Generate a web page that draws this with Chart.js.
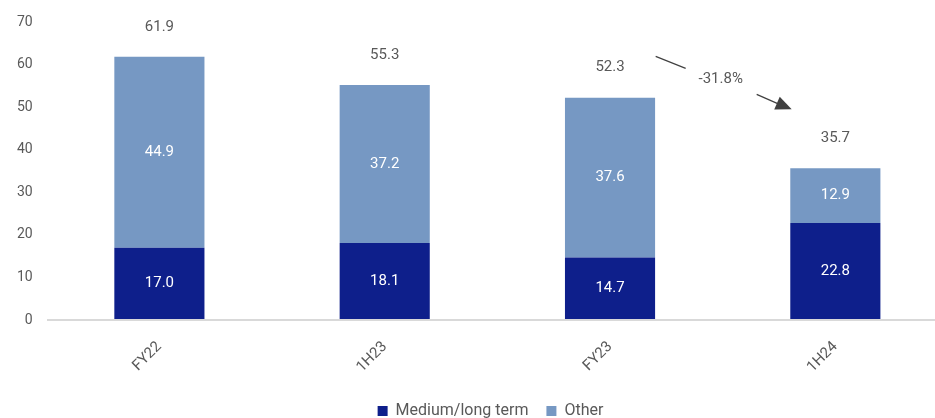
<!DOCTYPE html>
<html>
<head>
<meta charset="utf-8">
<script src="https://cdn.jsdelivr.net/npm/chart.js@4.4.1/dist/chart.umd.min.js"></script>
<style>
  html, body { margin: 0; padding: 0; background: #fff; overflow: hidden; }
  #wrap { width: 935px; height: 418px; overflow: hidden; }
  #inner { width: 948px; height: 429px; position: relative; }
</style>
</head>
<body>
<div id="wrap"><div id="inner"><canvas id="chart"></canvas></div></div>
<script>
// datos
const categories = ['FY22', '1H23', 'FY23', '1H24'];
const mediumLong = [17.0, 18.1, 14.7, 22.8];
const other = [44.9, 37.2, 37.6, 12.9];
const totals = [61.9, 55.3, 52.3, 35.7];
const changeLabel = '-31.8%';

const THEME = { dark: '#0E1F8B', light: '#7698C3', text: '#595959', zero: '#d9d9d9' };
const FONT = "Roboto, 'Noto Sans', sans-serif";

Chart.defaults.font.family = FONT;
Chart.defaults.font.size = 15;
Chart.defaults.color = THEME.text;

// etiquetas dentro de los segmentos + totales encima
const labelsPlugin = {
    id: 'labels',
    afterLayout(chart) {
        // la leyenda va centrada sobre los 935px visibles
        if (chart.legend) { chart.legend.left += 15; chart.legend.right += 15; }
    },
    afterDatasetsDraw(chart) {
        const ctx = chart.ctx;
        ctx.save();
        ctx.font = '15px ' + FONT;
        ctx.textAlign = 'center';
        ctx.textBaseline = 'middle';
        chart.data.datasets.forEach((ds, di) => {
            const meta = chart.getDatasetMeta(di);
            meta.data.forEach((bar, i) => {
                const mid = (bar.y + bar.base) / 2;
                ctx.fillStyle = '#ffffff';
                ctx.fillText(ds.data[i].toFixed(1), bar.x, mid);
            });
        });
        const top = chart.getDatasetMeta(1);
        top.data.forEach((bar, i) => {
            ctx.fillStyle = THEME.text;
            ctx.fillText(totals[i].toFixed(1), bar.x, bar.y - 30);
        });

        // flecha de variación FY23 -> 1H24
        const x = chart.scales.x, y = chart.scales.y;
        const x0 = x.getPixelForValue(2), x1 = x.getPixelForValue(3);
        const xm = (x0 + x1) / 2;
        const ym = y.getPixelForValue(56.6);
        ctx.fillStyle = THEME.text;
        ctx.fillText(changeLabel, xm - 2, ym);
        ctx.strokeStyle = '#404040';
        ctx.lineWidth = 1.2;
        ctx.beginPath();
        ctx.moveTo(xm - 67, ym - 23);
        ctx.lineTo(xm - 37, ym - 11);
        ctx.stroke();
        const ax = xm + 34, ay = ym + 15, bx = xm + 69, by = ym + 30;
        ctx.beginPath();
        ctx.moveTo(ax, ay);
        ctx.lineTo(bx - 10, by - 4);
        ctx.stroke();
        const ang = Math.atan2(by - ay, bx - ax);
        ctx.fillStyle = '#404040';
        ctx.beginPath();
        ctx.moveTo(bx, by);
        ctx.lineTo(bx - 16 * Math.cos(ang) + 7 * Math.sin(ang), by - 16 * Math.sin(ang) - 7 * Math.cos(ang));
        ctx.lineTo(bx - 16 * Math.cos(ang) - 7 * Math.sin(ang), by - 16 * Math.sin(ang) + 7 * Math.cos(ang));
        ctx.closePath();
        ctx.fill();
        ctx.restore();
    }
};

new Chart(document.getElementById('chart'), {
    type: 'bar',
    data: {
        labels: categories,
        datasets: [
            { label: 'Medium/long term', data: mediumLong, backgroundColor: THEME.dark, barPercentage: 0.4, categoryPercentage: 1 },
            { label: 'Other', data: other, backgroundColor: THEME.light, barPercentage: 0.4, categoryPercentage: 1 }
        ]
    },
    options: {
        responsive: true,
        maintainAspectRatio: false,
        animation: false,
        layout: { padding: { top: 20, right: 0, left: 3, bottom: 0 } },
        plugins: {
            legend: {
                position: 'bottom',
                labels: { boxWidth: 10, boxHeight: 10, padding: 18, color: THEME.text, font: { size: 16 } }
            },
            tooltip: { enabled: false }
        },
        scales: {
            x: {
                stacked: true,
                grid: { display: false },
                border: { display: false },
                ticks: { minRotation: 45, maxRotation: 45, color: THEME.text, padding: 10 },
                afterFit(scale) { scale.height = 65; }
            },
            y: {
                stacked: true,
                min: 0, max: 70,
                ticks: { stepSize: 10, color: THEME.text, padding: 14, font: { size: 14 } },
                border: { display: false },
                grid: {
                    drawTicks: false,
                    color: c => c.tick && c.tick.value === 0 ? THEME.zero : 'transparent',
                    lineWidth: 2
                }
            }
        }
    },
    plugins: [labelsPlugin]
});
</script>
</body>
</html>
